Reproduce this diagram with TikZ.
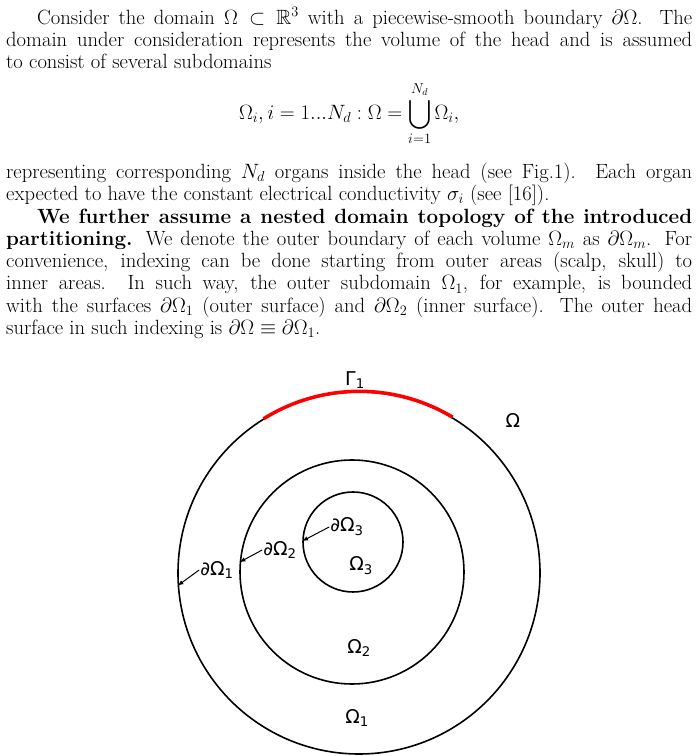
\documentclass[tikz,border=0pt]{standalone}
\usepackage{amssymb}
\usepackage{fontspec}
\newfontfamily\lbl{DejaVu Sans}
\begin{document}
\begin{tikzpicture}[x=1pt,y=1pt,
  ring/.style={draw,circle,line width=1.6pt,inner sep=0pt},
  lab/.style={font=\lbl\fontsize{19}{22}\selectfont,inner sep=1pt},
  pt/.style={-latex,line width=1pt}]
\useasboundingbox (0,0) rectangle (700,756);
\node[anchor=north west,text width=686pt,align=justify,inner sep=0pt,font=\fontsize{20.6}{22.3}\selectfont] (txt) at (6,749) {%
\setlength\parindent{1.5em}\setlength\abovedisplayskip{12pt}\setlength\belowdisplayskip{16pt}\indent Consider the domain $\Omega\subset\mathbb{R}^3$ with a piecewise-smooth boundary $\partial\Omega$. The\linebreak domain under consideration represents the volume of the head and is assumed\linebreak to consist of several subdomains
\[\Omega_i, i=1...N_d:\Omega=\bigcup_{i=1}^{N_d}\Omega_i,\]
representing corresponding $N_d$ organs inside the head (see Fig.1). Each organ\linebreak expected to have the constant electrical conductivity $\sigma_i$ (see [16]).\par
\textbf{We further assume a nested domain topology of the introduced\linebreak partitioning.} We denote the outer boundary of each volume $\Omega_m$ as $\partial\Omega_m$. For\linebreak convenience, indexing can be done starting from outer areas (scalp, skull) to\linebreak inner areas. In such way, the outer subdomain $\Omega_1$, for example, is bounded\linebreak with the surfaces $\partial\Omega_1$ (outer surface) and $\partial\Omega_2$ (inner surface). The outer head\linebreak surface in such indexing is $\partial\Omega\equiv\partial\Omega_1$.\par};
\node[ring,minimum size=362pt] (c1) at (359,183) {};
\node[ring,minimum size=224pt] (c2) at (352,184) {};
\node[ring,minimum size=100pt] (c3) at (353,214) {};
\draw[red,line width=3.5pt] (c1.59) arc[start angle=59,end angle=122,radius=181pt];
\node[lab] (g1) at (355,376) {Γ\textsubscript{1}};
\node[lab] (om) at (513,336) {Ω};
\node[lab] (d3) at (347,229) {∂Ω\textsubscript{3}};
\node[lab] (o3) at (361,190) {Ω\textsubscript{3}};
\node[lab] (d2) at (280,206) {∂Ω\textsubscript{2}};
\node[lab] (d1) at (217,186) {∂Ω\textsubscript{1}};
\node[lab] (o2) at (359,108) {Ω\textsubscript{2}};
\node[lab] (o1) at (357,38) {Ω\textsubscript{1}};
\draw[pt] (d3.west) -- (c3.179);
\draw[pt] (d2.west) -- (c2.175);
\draw[pt] (d1.west) -- (c1.184);
\end{tikzpicture}
\end{document}
